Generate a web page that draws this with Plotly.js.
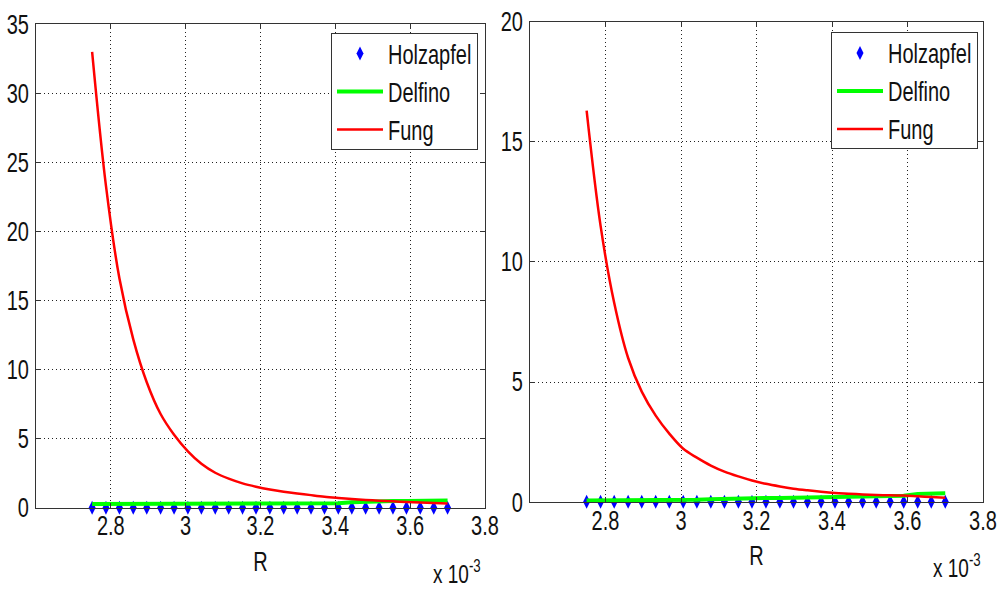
<!DOCTYPE html>
<html><head><meta charset="utf-8">
<script src="https://cdn.plot.ly/plotly-3.0.1.min.js"></script>
<style>html,body{margin:0;padding:0;background:#fff}#chart{width:1000px;height:590px}</style>
</head><body><div id="chart"></div>
<script>
// R values (x 10^-3)
const R = [2.750, 2.787, 2.823, 2.860, 2.896, 2.933, 2.969, 3.006, 3.042, 3.079, 3.115, 3.152, 3.188, 3.225, 3.262, 3.298, 3.335, 3.371, 3.408, 3.444, 3.481, 3.517, 3.554, 3.590, 3.627, 3.663, 3.700];

// Left panel
const holzLeft = [0.02,0.02,0.02,0.02,0.02,0.02,0.02,0.02,0.02,0.02,0.02,0.02,0.02,0.02,0.02,0.02,0.02,0.02,0.02,0.02,0.02,0.02,0.02,0.02,0.02,0.02,0.02];
const delfinoLeft = [0.28,0.28,0.28,0.29,0.29,0.29,0.29,0.3,0.3,0.3,0.3,0.31,0.31,0.31,0.31,0.32,0.32,0.33,0.34,0.42,0.46,0.48,0.5,0.5,0.52,0.53,0.55];
const fungLeft = [33.0,23.3,16.6,12.2,9.1,6.8,5.3,4.1,3.2,2.55,2.12,1.78,1.54,1.34,1.18,1.05,0.93,0.82,0.73,0.65,0.58,0.53,0.48,0.44,0.40,0.36,0.33];

// Right panel
const holzRight = [0.01,0.01,0.01,0.01,0.01,0.01,0.01,0.01,0.01,0.01,0.01,0.01,0.01,0.01,0.01,0.01,0.01,0.01,0.01,0.01,0.01,0.01,0.01,0.01,0.01,0.01,0.01];
const delfinoRight = [0.07,0.07,0.07,0.08,0.08,0.08,0.09,0.09,0.1,0.12,0.14,0.15,0.16,0.17,0.17,0.18,0.19,0.2,0.21,0.22,0.23,0.24,0.25,0.26,0.34,0.36,0.37];
const fungRight = [16.3,11.5,8.3,6.0,4.6,3.6,2.85,2.22,1.85,1.52,1.27,1.07,0.9,0.76,0.65,0.56,0.49,0.43,0.38,0.35,0.32,0.30,0.28,0.27,0.24,0.21,0.18];

const xTicks = [2.8, 3.0, 3.2, 3.4, 3.6, 3.8];
const xTickText = ['2.8', '3', '3.2', '3.4', '3.6', '3.8'];
const yTicksLeft = [0, 5, 10, 15, 20, 25, 30, 35];
const yTicksRight = [0, 5, 10, 15, 20];
const names = ['Holzapfel', 'Delfino', 'Fung'];

const FONT = 'Liberation Sans, Arial, sans-serif';
const FS = 20;
const TXT = '#111';

function traces(xa, ya, leg, holz, delf, fung) {
  return [
    {x: R, y: holz, name: names[0], xaxis: xa, yaxis: ya, legend: leg, legendgroup: leg + 'a',
     mode: 'markers', type: 'scatter', cliponaxis: false,
     marker: {symbol: 'diamond-tall', size: 10, color: '#0000ff'}},
    {x: R, y: delf, name: names[1], xaxis: xa, yaxis: ya, legend: leg, legendgroup: leg + 'b',
     mode: 'lines', type: 'scatter', cliponaxis: false,
     line: {color: '#00ff00', width: 4}},
    {x: R, y: fung, name: names[2], xaxis: xa, yaxis: ya, legend: leg, legendgroup: leg + 'c',
     mode: 'lines', type: 'scatter', cliponaxis: false,
     line: {color: '#ff0000', width: 2.5, shape: 'spline', smoothing: 1}}
  ];
}

const data = [].concat(
  traces('x', 'y', 'legend', holzLeft, delfinoLeft, fungLeft),
  traces('x2', 'y2', 'legend2', holzRight, delfinoRight, fungRight)
);

function xAxis(domain, anchor) {
  return {
    domain: domain, anchor: anchor, range: [2.6, 3.8],
    tickmode: 'array', tickvals: xTicks, ticktext: xTickText,
    showgrid: true, griddash: '1px,3px', gridcolor: '#222', gridwidth: 1,
    showline: true, linecolor: '#333', linewidth: 1, mirror: 'ticks',
    ticks: 'inside', ticklen: 5, tickcolor: '#333', zeroline: false,
    ticklabelstandoff: 0,
    tickfont: {family: FONT, size: FS, color: TXT},
    title: {text: 'R', font: {family: FONT, size: FS, color: TXT}, standoff: 18}
  };
}
function yAxis(domain, anchor, range, ticks) {
  return {
    domain: domain, anchor: anchor, range: range,
    tickmode: 'array', tickvals: ticks,
    showgrid: true, griddash: '1px,3px', gridcolor: '#222', gridwidth: 1,
    showline: true, linecolor: '#333', linewidth: 1, mirror: 'ticks',
    ticks: 'inside', ticklen: 5, tickcolor: '#333', zeroline: false,
    ticklabelstandoff: 2,
    tickfont: {family: FONT, size: FS, color: TXT}
  };
}

const legendStyle = {
  xanchor: 'right', yanchor: 'top', bgcolor: '#ffffff',
  bordercolor: '#333', borderwidth: 1, tracegroupgap: 9, itemwidth: 46,
  font: {family: FONT, size: FS, color: TXT}
};

const layout = {
  width: 1000, height: 590,
  margin: {l: 0, r: 0, t: 0, b: 0},
  paper_bgcolor: '#ffffff', plot_bgcolor: '#ffffff',
  showlegend: true,
  xaxis: xAxis([0.036, 0.485], 'y'),
  yaxis: yAxis([0.139, 0.959], 'x', [0, 35], yTicksLeft),
  xaxis2: xAxis([0.530, 0.983], 'y2'),
  yaxis2: yAxis([0.149, 0.963], 'x2', [0, 20], yTicksRight),
  legend: Object.assign({x: 0.478, y: 0.944}, legendStyle),
  legend2: Object.assign({x: 0.978, y: 0.945}, legendStyle),
  annotations: [
    {xref: 'paper', yref: 'paper', x: 0.457, y: 1 - 572/590, xanchor: 'center', yanchor: 'middle',
     text: 'x 10<sup>-3</sup>', showarrow: false, font: {family: FONT, size: 19, color: TXT}},
    {xref: 'paper', yref: 'paper', x: 0.957, y: 1 - 566/590, xanchor: 'center', yanchor: 'middle',
     text: 'x 10<sup>-3</sup>', showarrow: false, font: {family: FONT, size: 19, color: TXT}}
  ]
};

// The reference text is tall and narrow: stretch every text vertically about its own centre.
const STRETCH = 1.35;
Plotly.newPlot('chart', data, layout, {staticPlot: true, displayModeBar: false}).then(function (gd) {
  gd.querySelectorAll('svg text').forEach(function (t) {
    let b;
    try { b = t.getBBox(); } catch (e) { return; }
    if (!b || !b.height) return;
    const cx = b.x + b.width / 2, cy = b.y + b.height / 2;
    const prev = t.getAttribute('transform') || '';
    t.setAttribute('transform', prev + ' translate(' + cx + ',' + cy + ') scale(1,' + STRETCH + ') translate(' + (-cx) + ',' + (-cy) + ')');
  });
});
</script>
</body></html>
